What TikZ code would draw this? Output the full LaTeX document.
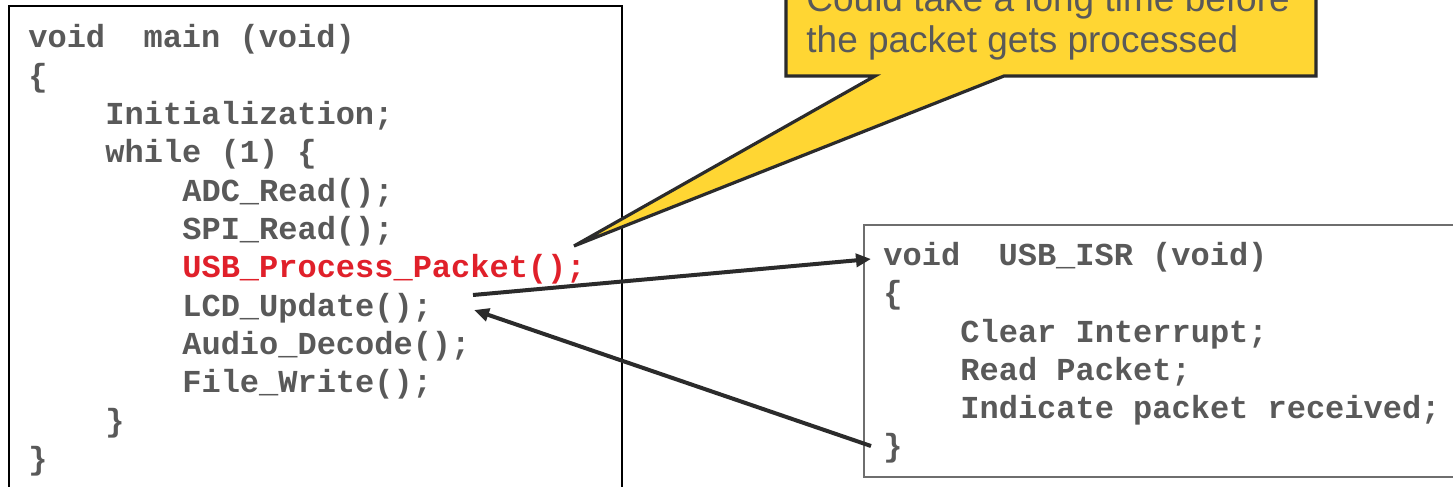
\documentclass[tikz,border=0pt]{standalone}
\usepackage{fontspec}
\setmainfont{Liberation Sans}
\newfontfamily\codefont{Liberation Mono}
\usetikzlibrary{arrows.meta,calc}
\definecolor{codegray}{HTML}{595959}
\definecolor{codered}{HTML}{E0202A}
\definecolor{calloutyellow}{HTML}{FFD633}
\definecolor{darkline}{HTML}{2B2B2B}
\definecolor{boxgray}{HTML}{6E6E6E}
\begin{document}
\begin{tikzpicture}[x=0.5pt,y=-0.5pt,
  code/.style={anchor=base west, inner sep=0pt, font=\codefont\bfseries\fontsize{16}{19}\selectfont, text=codegray},
  redcode/.style={code, text=codered},
  note/.style={anchor=base west, inner sep=0pt, font=\fontsize{18.5}{22}\selectfont, text=codegray},
  arr/.style={draw=darkline, line width=2pt, -{Triangle[length=7.5pt,width=6.5pt]}},
  ]
\useasboundingbox (0,0) rectangle (1453,487);
\clip (0,0) rectangle (1453,487);
\fill[white] (0,0) rectangle (1453,487);

% boxes
\draw[black, line width=1pt] (9,6) rectangle (622,520);
\draw[boxgray, line width=0.8pt] (864,225) rectangle (1480,477);

% left code
\node[code] (l1) at (28,47) {void~~main (void)};
\node[code] (l2) at (28,86) {\{};
\node[code] (l3) at (105,124) {Initialization;};
\node[code] (l4) at (105,162) {while (1) \{};
\node[code] (l5) at (182,201) {ADC\_Read();};
\node[code] (l6) at (182,239) {SPI\_Read();};
\node[redcode] (l7) at (182,277) {USB\_Process\_Packet();};
\node[code] (l8) at (182,316) {LCD\_Update();};
\node[code] (l9) at (182,354) {Audio\_Decode();};
\node[code] (l10) at (182,392) {File\_Write();};
\node[code] (l11) at (105,431) {\}};
\node[code] (l12) at (28,469) {\}};

% right code
\node[code] (r1) at (883,265) {void~~USB\_ISR (void)};
\node[code] (r2) at (883,303) {\{};
\node[code] (r3) at (960,342) {Clear Interrupt;};
\node[code] (r4) at (960,380) {Read Packet;};
\node[code] (r5) at (960,418) {Indicate packet received;};
\node[code] (r6) at (883,456) {\}};

% callout
\draw[fill=calloutyellow, draw=darkline, line width=1.6pt]
  (786,-30) -- (786,76) -- (875,76) -- ($(l7.base west)+(392,-31)$) -- (1004,76) -- (1316,76) -- (1316,-30) -- cycle;
\node[note] (n1) at (806,11) {Could take a long time before};
\node[note] (n2) at (806,53) {the packet gets processed};

% arrows
\draw[arr] ($(l8.base west)+(291,-21)$) -- ($(r1.base west)+(-12,-6)$);
\draw[arr] ($(r6.base west)+(-12,-10)$) -- ($(l8.base west)+(292,-6)$);
\end{tikzpicture}
\end{document}
